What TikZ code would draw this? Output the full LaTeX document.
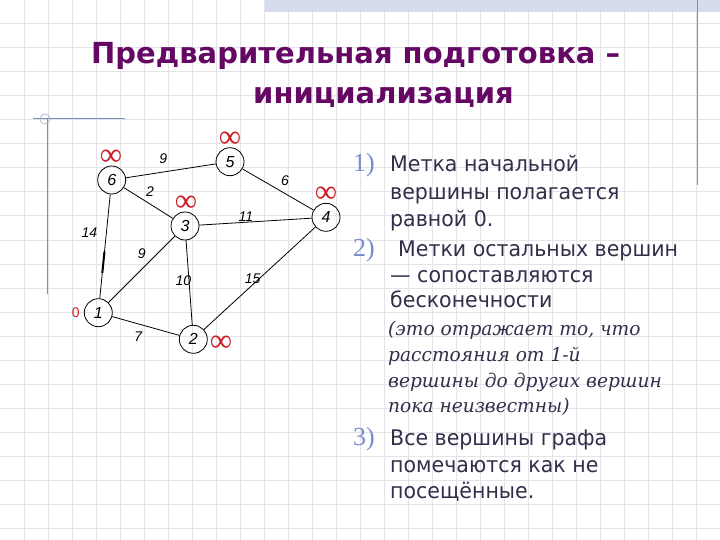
\documentclass[tikz,border=0pt]{standalone}
\usepackage{fontspec}
\usetikzlibrary{calc}
\setmainfont{DejaVu Sans}
\newfontfamily\titlefont{DejaVu Sans}
\newfontfamily\bodyfont{DejaVu Sans}[FakeStretch=0.955]
\newfontfamily\serifit{DejaVu Serif}[FakeStretch=0.98]
\newfontfamily\numfont{Liberation Serif}
\newfontfamily\graphfont{Liberation Sans}
\newfontfamily\symfont{Liberation Serif}
\definecolor{gridc}{RGB}{228,228,232}
\definecolor{bandc}{RGB}{214,220,238}
\definecolor{decoc}{RGB}{125,140,185}
\definecolor{titlec}{RGB}{100,8,100}
\definecolor{textc}{RGB}{48,48,74}
\definecolor{numc}{RGB}{120,140,205}
\definecolor{infc}{RGB}{205,30,40}
\tikzset{
  vtx/.style={circle, draw, line width=0.8pt, minimum size=28pt, inner sep=0pt,
    font=\graphfont\itshape\fontsize{16}{16}\selectfont},
  edge/.style={line width=0.8pt},
  elabel/.style={inner sep=0pt, font=\graphfont\itshape\fontsize{14}{14}\selectfont},
  inflabel/.style={inner sep=0pt, text=infc, font=\symfont\fontsize{24}{24}\selectfont},
  zerolabel/.style={inner sep=0pt, text=infc, font=\graphfont\fontsize{14}{14}\selectfont},
  titletext/.style={anchor=base west, inner sep=0pt, text=titlec,
    font=\titlefont\bfseries\fontsize{29}{32}\selectfont},
  bodytext/.style={anchor=base west, inner sep=0pt, text=textc,
    font=\bodyfont\fontsize{21.5}{26}\selectfont},
  ittext/.style={anchor=base west, inner sep=0pt, text=textc,
    font=\serifit\itshape\fontsize{19}{24}\selectfont},
  numtext/.style={anchor=base west, inner sep=0pt, text=numc,
    font=\numfont\fontsize{26}{26}\selectfont},
  decoline/.style={draw=decoc, line width=1pt}
}
\newcommand{\infsym}{\scalebox{1.3}[1.35]{∞}}
\begin{document}
\begin{tikzpicture}[x=1pt,y=-1pt]
\useasboundingbox (0,0) rectangle (720,540);
\fill[white] (0,0) rectangle (720,540);
% grid
\foreach \g in {24,48,...,720} \draw[gridc, line width=1pt] (\g,0) -- (\g,540);
\foreach \g in {24,48,...,528} \draw[gridc, line width=1pt] (0,\g) -- (720,\g);
% decorations
\fill[bandc] (265,0) rectangle (720,12);
\draw[decoline] (697,0) -- (697,185);
\draw[decoline] (33,119) -- (125,119);
\draw[decoline] (47,119) -- (47,294);
\draw[decoc!60, line width=0.8pt] (45,119) circle (5);
% title
\node[titletext] (t1) at (91,64) {Предварительная подготовка –};
\node[titletext] (t2) at (253,104) {инициализация};
% graph
\node[vtx] (n6) at (111.7,180) {6};
\node[vtx] (n5) at (230,161.7) {5};
\node[vtx] (n3) at (185,226) {3};
\node[vtx] (n4) at (326,217.3) {4};
\node[vtx] (n1) at (98.3,312.7) {1};
\node[vtx] (n2) at (193.3,339.3) {2};
\draw[edge] (n6) -- (n5);
\draw[edge] (n6) -- (n3);
\draw[edge] (n5) -- (n4);
\draw[edge] (n3) -- (n4);
\draw[edge] (n6) -- (n1);
\draw[edge, line width=2pt] ($(n6)!0.54!(n1)$) -- ($(n6)!0.70!(n1)$);
\draw[edge] (n1) -- (n3);
\draw[edge] (n3) -- (n2);
\draw[edge] (n2) -- (n4);
\draw[edge] (n1) -- (n2);
% edge weights
\node[elabel] (w65) at (163.3,158.3) {9};
\node[elabel] (w63) at (150,191.7) {2};
\node[elabel] (w54) at (285,181) {6};
\node[elabel] (w34) at (246,216.7) {11};
\node[elabel] (w61) at (89.3,232.7) {14};
\node[elabel] (w13) at (141.7,253.3) {9};
\node[elabel] (w32) at (183.3,280.7) {10};
\node[elabel] (w24) at (252.7,278.3) {15};
\node[elabel] (w12) at (138.3,336.7) {7};
% distance labels
\node[inflabel] (i6) at (111,158) {\infsym};
\node[inflabel] (i5) at (230,140) {\infsym};
\node[inflabel] (i3) at (186,203.5) {\infsym};
\node[inflabel] (i4) at (326,195) {\infsym};
\node[inflabel] (i2) at (221,344) {\infsym};
\node[zerolabel] (z1) at (75.7,313) {0};
% list
\node[numtext] (k1) at (353,172) {1)};
\node[bodytext] (a1) at (390,172) {Метка начальной};
\node[bodytext] (a2) at (390,199.5) {вершины полагается};
\node[bodytext] (a3) at (390,226.5) {равной 0.};
\node[numtext] (k2) at (353,256) {2)};
\node[bodytext] (b1) at (398,256) {Метки остальных вершин};
\node[bodytext] (b2) at (390,282) {— сопоставляются};
\node[bodytext] (b3) at (390,307) {бесконечности};
\node[ittext] (c1) at (388,335.5) {(это отражает то, что};
\node[ittext] (c2) at (388,361.5) {расстояния от 1-й};
\node[ittext] (c3) at (388,387.3) {вершины до других вершин};
\node[ittext] (c4) at (388,412.5) {пока неизвестны)};
\node[numtext] (k3) at (353,445.7) {3)};
\node[bodytext] (d1) at (390,445.7) {Все вершины графа};
\node[bodytext] (d2) at (390,472.7) {помечаются как не};
\node[bodytext] (d3) at (390,498.5) {посещённые.};
\end{tikzpicture}
\end{document}
